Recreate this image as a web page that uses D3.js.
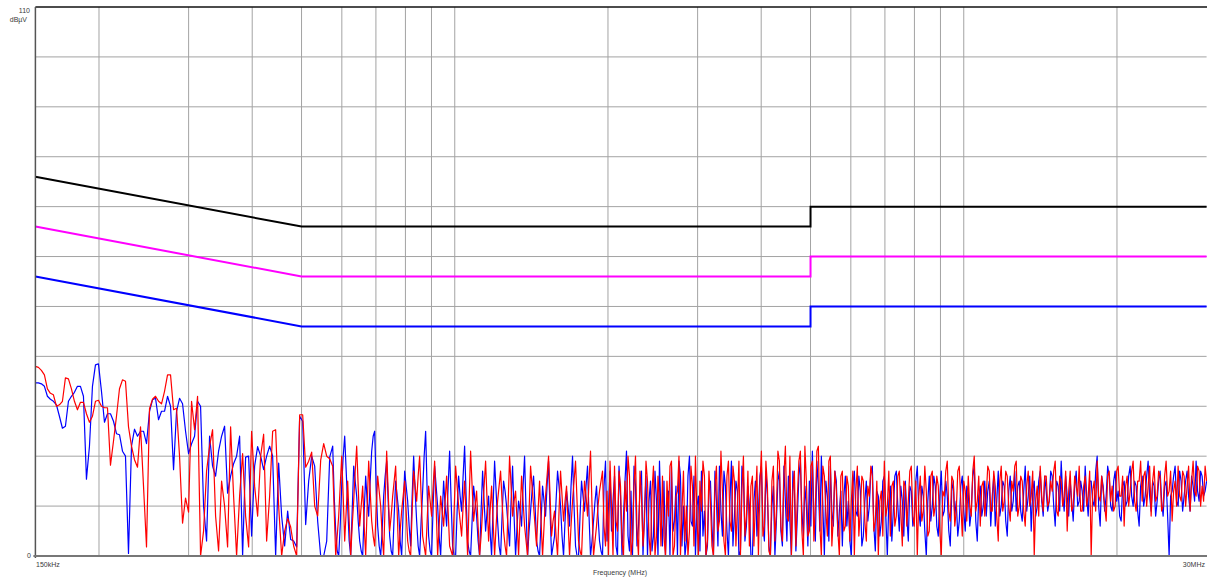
<!DOCTYPE html>
<html lang="en">
<head>
<meta charset="utf-8">
<title>conducted emission scan</title>
<script src="https://d3js.org/d3.v7.min.js"></script>
<style>
  body { margin: 0; background: #fff; }
  .grid line { stroke: #a3a3a3; stroke-width: 1px; }
  .lbl { font-family: "Liberation Sans", Arial, sans-serif; font-size: 7px; fill: #3a3a3a; }
  .trace { fill: none; stroke-width: 1.2px; stroke-linejoin: round; }
  .limit { fill: none; stroke-width: 2px; }
</style>
</head>
<body>
<script>

// scan settings (MHz) and axis ticks
var fStart = 0.15, fStop = 30;
var gridFreqs = [0.2, 0.3, 0.4, 0.5, 0.6, 0.7, 0.8, 0.9, 1, 2, 3, 4, 5, 6, 7, 8, 9, 10, 20];
var gridLevels = [10, 20, 30, 40, 50, 60, 70, 80, 90, 100];

// limit lines (dBµV) at the break frequencies
var limitFreqs = [0.15, 0.5, 5, 5, 30];
var limitBlack = [76, 66, 66, 70, 70];
var limitMagenta = [66, 56, 56, 60, 60];
var limitBlue = [56, 46, 46, 50, 50];

var redLow = [38, 37.8, 37.2, 36.3, 33.5, 32.6, 32.3, 30, 30.3, 31,
  35.7, 35.5, 33.5, 31, 29.3, 30.8, 30.8, 28.5, 26.8, 28,
  31, 31.2, 30, 29.7, 29.7, 18.2, 23, 28, 33.5, 35.3,
  35, 25.9, 22, 19.3, 17.8, 25.9, 14, 1.8, 29.5, 31.4,
  32, 31, 30.5, 33, 36.3, 36.3, 29.3, 29.6, 20, 6.6,
  11.6, 8.8, 31, 25.3, 32, 0, 5, 17, 22, 25.3,
  8, 1, 15, 10, 1.8, 25.9, 12, 0, 12, 20.5,
  8, 1.8, 25, 14, 8, 20, 24.4, 3, 12, 25,
  25.3, 10, 0, 5, 7.5, 5.8, 2, 0, 28.3, 28.3,
  17.8, 19, 20.8, 10, 8, 19.2, 22.5, 20, 19.5];

var blueLow = [34.7, 34.7, 34.5, 34, 32, 31.4, 31, 30.3, 28, 25.6,
  26, 31, 32, 32.8, 34, 34, 32, 15.4, 22, 34,
  38.3, 38.5, 33, 26.8, 28.5, 28.5, 27, 24.5, 24.3, 21,
  20, 0.5, 22, 25.4, 24, 25, 25, 22.5, 29, 31.3,
  31.6, 27.3, 29, 29, 32, 30, 17.3, 29, 31.6, 30.5,
  25, 20.5, 22.5, 24, 31, 30, 10, 3, 24, 18,
  16, 21, 24, 26, 12.6, 16, 18.5, 20, 24, 0,
  19.8, 20, 4, 18, 21.9, 20, 17.3, 20, 22, 20,
  0, 18.6, 8, 2, 9, 3.3, 3, 1.8, 28, 27,
  6.3, 15, 20, 18, 6.9, 0, 0, 3, 19.8];

// measured traces above 0.5 MHz: even scan points (A) and the odd ones between them (B)
var blueHighA = [22, 5, 0, 14, 24, 10, 0, 18, 12, 3,
  0, 16, 8, 21, 25, 6, 0, 12, 19, 4,
  0, 15, 9, 0, 17, 11, 2, 20, 7, 0,
  13, 25, 4, 0, 18, 10, 0, 15, 6, 21,
  2, 0, 16, 9, 22, 3, 0, 14, 8, 0,
  17, 5, 12, 0, 19, 7, 0, 15, 10, 2,
  18, 0, 11, 6, 20, 0, 9, 16, 3, 0,
  14, 8, 19, 0, 4, 17, 10, 0, 13, 6,
  20, 2, 0, 15, 9, 18, 0, 7, 14, 3,
  0, 19, 10, 5, 16, 0, 12, 8, 21, 1,
  0, 14, 6, 17, 9, 0, 15, 4, 11, 19,
  2, 0, 13, 18, 7, 0, 16, 10, 3, 20,
  6, 0, 12, 17, 9, 2, 15, 0, 11, 18,
  4, 14, 0, 19, 8, 13, 1, 16, 6, 10,
  0, 15, 9, 18, 3, 12, 0, 14, 7, 17,
  2, 11, 16, 0, 13, 8, 19, 4, 10, 15,
  21, 3, 14, 20, 0, 12, 18, 6, 15, 9,
  2, 16, 11, 0, 17, 8, 13, 4, 15, 10,
  18, 1, 12, 7, 16, 0, 14, 9, 17, 5,
  11, 15, 3, 13, 8, 18, 6, 12, 0, 16,
  10, 14, 4, 17, 9, 12, 2, 15, 11, 7,
  16, 5, 13, 9, 18, 3, 14, 10, 8, 15,
  12, 6, 17, 10, 14, 4, 16, 11, 9, 15,
  7, 18, 12, 5, 15, 10, 17, 8, 13, 11,
  16, 6, 14, 19, 9, 12, 15, 7, 17, 11,
  13, 18, 8, 15, 10, 20, 6, 14, 12, 16,
  9, 17, 13, 7, 15, 11, 18, 10, 14, 6,
  16, 12, 19, 9, 14, 11, 17, 8, 15, 0,
  13, 18, 10, 15, 12, 17, 9, 14, 19, 11,
  16, 13];

var blueHighB = [12, 1, 6, 20, 17, 3, 9, 15, 7, 1,
  9, 11, 15, 24, 14, 2, 5, 16, 11, 1,
  8, 12, 3, 9, 14, 6, 12, 13, 2, 7,
  20, 13, 1, 10, 14, 4, 8, 10, 14, 11,
  0, 9, 12, 16, 12, 1, 7, 11, 3, 9,
  11, 9, 5, 10, 13, 2, 8, 13, 6, 11,
  8, 6, 9, 14, 9, 5, 13, 10, 1, 7,
  11, 14, 9, 2, 11, 14, 4, 7, 10, 14,
  10, 0, 8, 12, 14, 8, 3, 11, 8, 1,
  14, 3, 17, 11, 2, 18, 0, 15, 4, 13,
  18, 2, 13, 0, 16, 11, 1, 17, 0, 8,
  15, 9, 0, 5, 14, 19, 2, 0, 16, 7,
  16, 10, 1, 4, 0, 13, 6, 17, 2, 9,
  17, 5, 11, 2, 15, 0, 18, 3, 14, 0,
  11, 4, 16, 6, 17, 2, 10, 0, 15, 5,
  18, 3, 7, 17, 1, 16, 9, 14, 2, 6,
  8, 19, 5, 10, 15, 3, 9, 17, 4, 13,
  12, 6, 3, 14, 9, 16, 2, 11, 7, 17,
  6, 13, 4, 15, 8, 11, 3, 16, 10, 14,
  4, 8, 14, 6, 15, 9, 14, 5, 11, 7,
  16, 6, 12, 8, 15, 5, 13, 8, 4, 14,
  9, 14, 6, 16, 7, 12, 8, 15, 13, 6,
  16, 11, 8, 15, 7, 13, 9, 17, 14, 9,
  13, 9, 16, 13, 8, 15, 11, 16, 9, 17,
  10, 15, 9, 12, 16, 8, 11, 14, 10, 15,
  9, 12, 15, 11, 17, 10, 16, 9, 18, 10,
  15, 11, 8, 14, 10, 16, 12, 15, 9, 14,
  10, 16, 12, 15, 8, 15, 11, 14, 8, 12,
  16, 11, 17, 9, 15, 12, 16, 11, 13, 17,
  12, 15];

var redHighA = [18, 0, 8, 20, 3, 15, 0, 11, 22, 6,
  14, 0, 19, 7, 2, 16, 10, 0, 21, 5,
  12, 18, 0, 9, 15, 3, 0, 17, 11, 20,
  4, 0, 14, 8, 19, 0, 12, 6, 16, 2,
  0, 18, 10, 4, 15, 0, 21, 7, 13, 0,
  9, 19, 3, 14, 0, 11, 17, 5, 0, 20,
  8, 13, 0, 16, 6, 0, 18, 10, 2, 15,
  0, 12, 20, 4, 9, 0, 17, 7, 14, 0,
  11, 19, 3, 0, 15, 8, 21, 0, 6, 13,
  17, 2, 0, 10, 18, 5, 14, 0, 9, 16,
  3, 20, 0, 12, 7, 15, 0, 18, 4, 11,
  16, 0, 8, 19, 2, 13, 0, 17, 10, 5,
  14, 20, 0, 9, 16, 3, 11, 0, 18, 7,
  13, 0, 19, 5, 15, 10, 0, 20, 8, 2,
  16, 11, 0, 21, 6, 14, 0, 18, 9, 19,
  3, 22, 7, 0, 17, 12, 21, 0, 15, 5,
  19, 10, 22, 0, 16, 4, 20, 8, 13, 0,
  17, 6, 14, 11, 0, 18, 9, 15, 3, 12,
  16, 7, 0, 13, 19, 10, 4, 15, 8, 17,
  2, 14, 11, 18, 6, 0, 16, 9, 13, 5,
  17, 10, 14, 0, 12, 19, 7, 15, 9, 18,
  4, 13, 16, 8, 20, 11, 6, 15, 12, 17,
  9, 14, 3, 18, 11, 16, 7, 13, 19, 10,
  15, 6, 17, 12, 0, 14, 18, 9, 16, 11,
  13, 19, 8, 15, 12, 5, 17, 10, 14, 18,
  9, 16, 12, 0, 15, 19, 11, 13, 7, 17,
  14, 10, 18, 12, 6, 16, 13, 19, 9, 15,
  11, 17, 14, 8, 18, 12, 16, 10, 19, 13,
  7, 15, 18, 11, 16, 14, 9, 19, 12, 17,
  14, 18];

var redHighB = [9, 4, 14, 12, 9, 7, 6, 17, 14, 10,
  6, 10, 13, 4, 9, 13, 4, 11, 13, 8,
  15, 9, 5, 12, 9, 1, 9, 14, 16, 12,
  2, 7, 11, 14, 10, 6, 9, 11, 9, 1,
  9, 14, 7, 10, 8, 11, 14, 10, 6, 4,
  14, 11, 9, 7, 6, 14, 11, 2, 10, 14,
  11, 7, 8, 11, 3, 9, 14, 6, 9, 7,
  6, 16, 12, 7, 4, 9, 12, 11, 7, 6,
  15, 11, 1, 8, 12, 15, 10, 3, 10, 15,
  6, 13, 19, 0, 7, 17, 3, 15, 20, 0,
  14, 5, 17, 2, 19, 4, 13, 0, 16, 2,
  4, 15, 18, 0, 12, 20, 9, 3, 0, 18,
  2, 8, 15, 19, 0, 17, 2, 14, 5, 21,
  3, 16, 7, 18, 2, 19, 13, 4, 17, 14,
  2, 18, 14, 4, 19, 1, 15, 3, 21, 6,
  16, 8, 20, 13, 2, 19, 5, 22, 4, 18,
  3, 21, 6, 18, 9, 19, 2, 17, 5, 16,
  5, 16, 3, 17, 13, 4, 16, 7, 14, 18,
  5, 15, 11, 4, 8, 17, 14, 6, 16, 9,
  15, 6, 17, 8, 15, 12, 7, 18, 4, 16,
  8, 16, 5, 13, 17, 9, 16, 6, 17, 11,
  15, 7, 10, 17, 9, 16, 14, 8, 18, 9,
  17, 8, 15, 9, 17, 10, 15, 18, 8, 16,
  9, 14, 10, 17, 11, 8, 12, 16, 10, 15,
  17, 9, 16, 10, 17, 13, 9, 16, 12, 9,
  14, 10, 17, 13, 9, 12, 16, 10, 16, 11,
  9, 17, 12, 16, 14, 10, 17, 11, 15, 19,
  16, 10, 18, 15, 11, 17, 9, 16, 12, 17,
  13, 10, 12, 17, 10, 18, 15, 13, 18, 10,
  11, 15];

var w = 1207, h = 578;
var margin = {top: 7, right: 0.4, bottom: 22, left: 35.4};

var svg = d3.select("body").append("svg")
  .attr("width", w)
  .attr("height", h);

var xScale = d3.scaleLog()
  .domain([fStart, fStop])
  .range([margin.left, w - margin.right]);

var yScale = d3.scaleLinear()
  .domain([0, 110])
  .range([h - margin.bottom, margin.top]);

// scan grid: log spaced, twice as fine above 0.5 MHz
var coarseSteps = 390;
function scanFreq(t) { return fStart * Math.pow(fStop / fStart, t); }

function buildTrace(low, highA, highB) {
  var pts = low.map((v, i) => [scanFreq(i / coarseSteps), v]);
  var high = d3.merge(highA.map((v, k) => [v, highB[k]]));
  var n = high.length;
  var t0 = low.length / coarseSteps;
  high.forEach(function(v, k) {
    pts.push([scanFreq(t0 + (1 - t0) * k / (n - 1)), v]);
  });
  return pts;
}

var blueTrace = buildTrace(blueLow, blueHighA, blueHighB);
var redTrace = buildTrace(redLow, redHighA, redHighB);

// grid
var grid = svg.append("g").attr("class", "grid");
grid.selectAll("line.v").data(gridFreqs).enter().append("line")
  .attr("class", "v")
  .attr("x1", d => xScale(d)).attr("x2", d => xScale(d))
  .attr("y1", yScale(110)).attr("y2", yScale(0));
grid.selectAll("line.h").data(gridLevels).enter().append("line")
  .attr("class", "h")
  .attr("x1", xScale(fStart)).attr("x2", xScale(fStop))
  .attr("y1", d => yScale(d)).attr("y2", d => yScale(d));

// traces
var traceGen = d3.line()
  .x(d => xScale(d[0]))
  .y(d => yScale(Math.max(0, Math.min(110, d[1]))));

svg.append("path")
  .datum(blueTrace)
  .attr("class", "trace")
  .attr("stroke", "#0000ff")
  .attr("d", traceGen);

svg.append("path")
  .datum(redTrace)
  .attr("class", "trace")
  .attr("stroke", "#ff0000")
  .attr("d", traceGen);

// limits
var limitGen = d3.line().x(d => xScale(d[0])).y(d => yScale(d[1]));
[[limitBlack, "#000000"], [limitMagenta, "#ff00ff"], [limitBlue, "#0000ff"]].forEach(function(l) {
  svg.append("path")
    .datum(d3.zip(limitFreqs, l[0]))
    .attr("class", "limit")
    .attr("stroke", l[1])
    .attr("d", limitGen);
});

// frame
svg.append("line")
  .attr("x1", xScale(fStart)).attr("x2", w)
  .attr("y1", yScale(110)).attr("y2", yScale(110))
  .attr("stroke", "#111").attr("stroke-width", 1.5);
svg.append("line")
  .attr("x1", xScale(fStart)).attr("x2", xScale(fStart))
  .attr("y1", yScale(110)).attr("y2", yScale(0) + 2)
  .attr("stroke", "#555").attr("stroke-width", 1.5);
svg.append("line")
  .attr("x1", xScale(fStart) - 2).attr("x2", w)
  .attr("y1", yScale(0)).attr("y2", yScale(0))
  .attr("stroke", "#777").attr("stroke-width", 2);

// labels
svg.append("text").attr("class", "lbl").attr("text-anchor", "end")
  .attr("x", 30).attr("y", 13).text("110");
svg.append("text").attr("class", "lbl").attr("text-anchor", "end")
  .attr("x", 27).attr("y", 21.5).text("dBµV");
svg.append("text").attr("class", "lbl").attr("text-anchor", "end")
  .attr("x", 31).attr("y", 558).text("0");
svg.append("text").attr("class", "lbl")
  .attr("x", 36).attr("y", 567).text("150kHz");
svg.append("text").attr("class", "lbl").attr("text-anchor", "end")
  .attr("x", 1205).attr("y", 567).text("30MHz");
svg.append("text").attr("class", "lbl").attr("text-anchor", "middle")
  .attr("x", 620).attr("y", 575).text("Frequency (MHz)");

</script>
</body>
</html>
